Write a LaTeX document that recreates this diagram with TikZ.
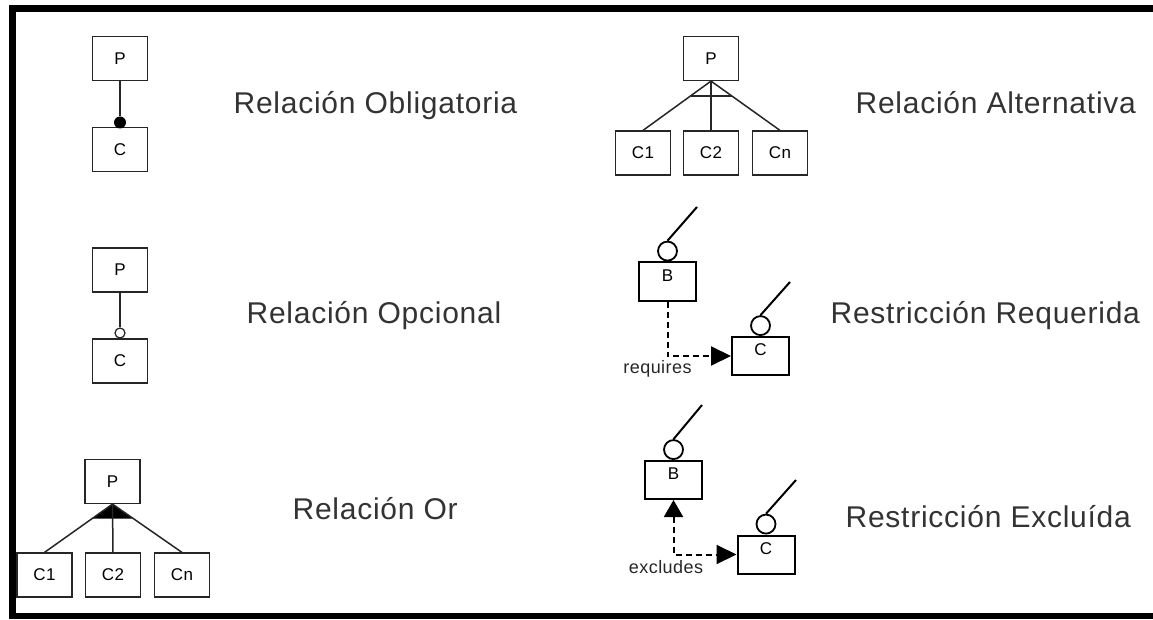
\documentclass[tikz,border=0pt]{standalone}
\usepackage{fontspec}
\setmainfont[LetterSpace=2.5]{Liberation Sans}
\usepackage{tikz}
\usetikzlibrary{arrows.meta}
\usetikzlibrary{calc}

\begin{document}
\begin{tikzpicture}[x=1pt, y=-1pt, line width=1.2pt,
        box_style/.style={rectangle,draw=black!85,minimum width=55,minimum height=44,inner sep=0,font=\fontsize{17}{20}\selectfont},
        feat_style/.style={rectangle,draw=black,line width=2pt,minimum width=57,minimum height=38,inner sep=0,
            label={[anchor=north,yshift=-4,font=\fontsize{17}{20}\selectfont]north:#1}},
        ring_style/.style={circle,draw=black,line width=1.8pt,fill=white,minimum size=19,inner sep=0},
        title_style/.style={anchor=base west,inner sep=0,text=black!80,font=\fontsize{30}{36}\selectfont},
        tag_style/.style={inner sep=0,text=black!85,font=\fontsize{18}{21}\selectfont},
        edge_style/.style={draw=black!85, line width=1.5pt,-},
        stick_style/.style={draw=black, line width=2pt,-},
        dash_style/.style={draw=black, line width=2pt,dash pattern=on 6pt off 4pt},
        tip_style/.style={-{Triangle[length=20pt,width=19pt]}},
        frame_style/.style={draw=black, line width=6.5pt, line join=miter}]

        \useasboundingbox (0,0) rectangle (1153,620);
        \draw [frame_style] (1160,8.5) -- (12.5,8.5) -- (12.5,616) -- (1160,616);

        % obligatoria
        \node [box_style](ob_p) at (120,58.5) {P};
        \node [box_style](ob_c) at (120,149.5) {C};
        \node [circle,fill=black,minimum size=12,inner sep=0](ob_dot) at (120,122.5) {};
        \draw [edge_style] (ob_p) edge (ob_dot);
        \node [title_style](ob_t) at (233,114) {Relación Obligatoria};

        % opcional
        \node [box_style](op_p) at (120,270) {P};
        \node [box_style](op_c) at (120,361) {C};
        \node [circle,draw=black!85,line width=1.2pt,fill=white,minimum size=10,inner sep=0](op_dot) at (120,333) {};
        \draw [edge_style] (op_p) edge (op_dot);
        \node [title_style](op_t) at (246,323) {Relación Opcional};

        % or
        \node [box_style](or_p) at (112.5,481.5) {P};
        \node [box_style](or_c1) at (44.5,575) {C1};
        \node [box_style](or_c2) at (113,575) {C2};
        \node [box_style](or_cn) at (182,575) {Cn};
        \fill [black] (or_p.south) -- ($(or_p.south)!0.3!(or_c1.north)$) -- ($(or_p.south)!0.3!(or_cn.north)$) -- cycle;
        \draw [edge_style] (or_p.south) edge (or_c1.north) edge (or_c2.north) edge (or_cn.north);
        \node [title_style](or_t) at (292,519) {Relación Or};

        % alternativa
        \node [box_style](al_p) at (711,58.5) {P};
        \node [box_style](al_c1) at (643,153) {C1};
        \node [box_style](al_c2) at (711,153) {C2};
        \node [box_style](al_cn) at (780,153) {Cn};
        \draw [edge_style] (al_p.south) edge (al_c1.north) edge (al_c2.north) edge (al_cn.north);
        \draw [edge_style] ($(al_p.south)!0.3!(al_c1.north)$) -- ($(al_p.south)!0.3!(al_cn.north)$);
        \node [title_style](al_t) at (855,114) {Relación Alternativa};

        % requerida
        \node [feat_style=B](rq_b) at (667.5,281.5) {};
        \node [feat_style=C](rq_c) at (760.5,356) {};
        \node [ring_style,anchor=south](rq_bo) at (rq_b.north) {};
        \node [ring_style,anchor=south](rq_co) at (rq_c.north) {};
        \coordinate (rq_bs) at (697,207);
        \coordinate (rq_cs) at (790,282);
        \draw [stick_style] (rq_bo.north) -- (rq_bs);
        \draw [stick_style] (rq_co.north) -- (rq_cs);
        \draw [dash_style,tip_style] (rq_b.south) |- (rq_c.west);
        \node [tag_style](rq_t) at (657.5,369) {requires};
        \node [title_style](rq_tt) at (830,323) {Restricción Requerida};

        % excluida
        \node [feat_style=B](ex_b) at (673.5,480) {};
        \node [feat_style=C](ex_c) at (766,554.5) {};
        \node [ring_style,anchor=south](ex_bo) at (ex_b.north) {};
        \node [ring_style,anchor=south](ex_co) at (ex_c.north) {};
        \coordinate (ex_bs) at (702,405);
        \coordinate (ex_cs) at (796,480);
        \draw [stick_style] (ex_bo.north) -- (ex_bs);
        \draw [stick_style] (ex_co.north) -- (ex_cs);
        \draw [dash_style,{Triangle[length=17pt,width=19pt]}-{Triangle[length=20pt,width=19pt]}] (ex_b.south) |- (ex_c.west);
        \node [tag_style](ex_t) at (666,567) {excludes};
        \node [title_style](ex_tt) at (845,527) {Restricción Excluída};
\end{tikzpicture}
\end{document}
